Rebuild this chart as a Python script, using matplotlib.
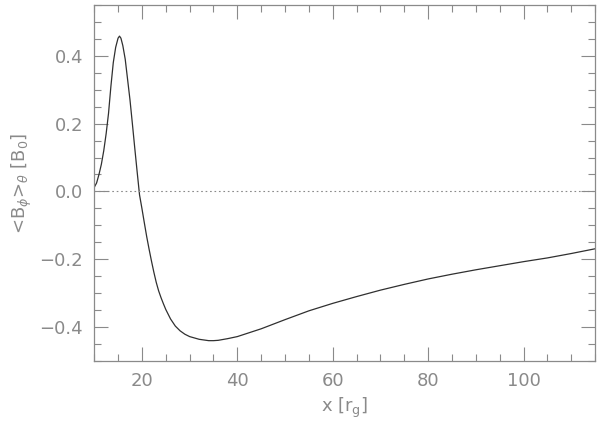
import matplotlib
matplotlib.use('Agg')
import matplotlib.pyplot as plt
from matplotlib.ticker import MultipleLocator

# <B_phi>_theta vs x
x = [10, 10.5, 11, 11.5, 12, 12.5, 13, 13.5, 14, 14.5, 15, 15.3, 15.6, 16,
     16.5, 17, 17.5, 18, 18.5, 19, 19.5, 20, 20.5, 21, 21.5, 22, 22.5, 23,
     23.5, 24, 24.5, 25, 26, 27, 28, 29, 30, 32, 34, 35, 36, 38, 40, 45, 50,
     55, 60, 65, 70, 75, 80, 85, 90, 95, 100, 105, 110, 115]
b_phi = [0.012, 0.025, 0.05, 0.08, 0.12, 0.17, 0.23, 0.31, 0.38, 0.425, 0.452,
         0.458, 0.452, 0.43, 0.39, 0.33, 0.27, 0.2, 0.128, 0.058, -0.01,
         -0.05, -0.092, -0.133, -0.17, -0.205, -0.238, -0.268, -0.293, -0.313,
         -0.331, -0.348, -0.376, -0.397, -0.411, -0.421, -0.428, -0.436,
         -0.44, -0.44, -0.439, -0.434, -0.428, -0.405, -0.378, -0.352, -0.33,
         -0.31, -0.291, -0.274, -0.258, -0.244, -0.231, -0.219, -0.207,
         -0.196, -0.183, -0.169]

grey = '#8a8a8a'

fig = plt.figure(figsize=(6, 4.29), dpi=100)
ax = fig.add_axes([0.157, 0.1585, 0.835, 0.83])

ax.plot(x, b_phi, color='#303030', lw=0.9)
ax.axhline(0, color=grey, lw=0.8, ls=(0, (1.5, 2.5)))

ax.set_xlim(10, 115)
ax.set_ylim(-0.5, 0.55)
ax.xaxis.set_major_locator(MultipleLocator(20))
ax.xaxis.set_minor_locator(MultipleLocator(5))
ax.yaxis.set_minor_locator(MultipleLocator(0.05))
ax.set_yticks([-0.4, -0.2, 0.0, 0.2, 0.4])
ax.set_yticklabels(['\u22120.4', '\u22120.2', '0.0', '0.2', '0.4'])

for s in ax.spines.values():
    s.set_color(grey)
    s.set_linewidth(0.9)
ax.tick_params(which='both', direction='in', top=True, right=True,
               color=grey, labelcolor=grey, labelsize=13, width=0.8)
ax.tick_params(which='major', length=10, pad=8)
ax.tick_params(which='minor', length=5)

ax.set_xlabel(r'x [r$_\mathrm{g}$]', color=grey, fontsize=13)
ax.set_ylabel(r'<B$_\phi$>$_\theta$ [B$_0$]', color=grey, fontsize=13)

plt.savefig('out.png', dpi=100)
